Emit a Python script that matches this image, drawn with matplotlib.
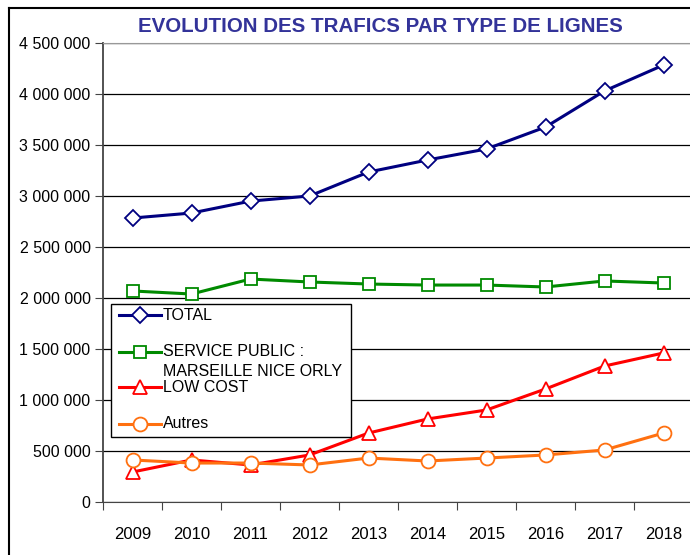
import matplotlib
matplotlib.use("Agg")
import matplotlib.pyplot as plt
from matplotlib.lines import Line2D
from matplotlib.patches import Rectangle
from matplotlib.ticker import FuncFormatter

plt.rcParams['font.family'] = ['Liberation Sans', 'DejaVu Sans']

# data
years = ['2009', '2010', '2011', '2012', '2013', '2014', '2015', '2016', '2017', '2018']
total = [2784000, 2833000, 2950000, 3000000, 3235000, 3353000, 3461000, 3676000, 4030000, 4284000]
service_public = [2069000, 2039000, 2186000, 2157000, 2137000, 2127000, 2127000, 2108000, 2167000, 2147000]
low_cost = [294000, 412000, 363000, 461000, 676000, 814000, 902000, 1108000, 1333000, 1461000]
autres = [412000, 382000, 382000, 363000, 431000, 402000, 431000, 461000, 510000, 676000]

series = [
    ('TOTAL', total, '#000080', 'D', 8),
    ('SERVICE PUBLIC :', service_public, '#008a00', 's', 8),
    ('LOW COST', low_cost, '#ff0000', '^', 10),
    ('Autres', autres, '#ff7010', 'o', 10),
]

fig = plt.figure(figsize=(6.9, 5.55), dpi=100)
ax = fig.add_axes([103 / 690, 1 - 502 / 555, 590 / 690, 459 / 555])

x = [i + 0.5 for i in range(len(years))]
for name, vals, col, mk, ms in series:
    ax.plot(x, vals, color=col, lw=2.2, marker=mk, ms=ms,
            mfc='white', mec=col, mew=1.3, zorder=3, clip_on=False)

ax.set_xlim(0, len(years))
ax.set_ylim(0, 4500000)
ax.set_yticks(range(0, 4500001, 500000))
ax.yaxis.set_major_formatter(FuncFormatter(lambda v, p: f"{int(v):,}".replace(',', ' ')))
ax.set_xticks(range(len(years) + 1))
ax.set_xticklabels([])
ax.set_xticks(x, minor=True)
ax.set_xticklabels(years, minor=True)
ax.tick_params(axis='x', which='minor', length=0, pad=18, labelsize=12)
ax.tick_params(axis='x', which='major', length=6, color='#444444')
ax.tick_params(axis='y', length=6, color='#444444', labelsize=11.5, pad=3)
ax.grid(axis='y', color='black', lw=0.9)
ax.set_axisbelow(True)
ax.spines['right'].set_visible(False)
ax.spines['top'].set_color('#999999')
ax.spines['left'].set_color('#444444')
ax.spines['bottom'].set_color('#444444')
ax.spines['left'].set_linewidth(1.3)

# legend box drawn by hand to mimic the original layout
ax_leg = fig.add_axes([0, 0, 1, 1], facecolor='none')
ax_leg.set_xlim(0, 690)
ax_leg.set_ylim(555, 0)
ax_leg.axis('off')
ax_leg.add_patch(Rectangle((111, 304), 240, 133, facecolor='white', edgecolor='black', lw=1.0))
leg_y = [315, 352, 387, 424]
for (name, vals, col, mk, ms), yy in zip(series, leg_y):
    ax_leg.add_line(Line2D([119, 161], [yy, yy], color=col, lw=2.2))
    ax_leg.add_line(Line2D([140], [yy], marker=mk, ms=ms, mfc='white', mec=col, mew=1.3, color=col))
    ax_leg.text(163, yy, name, va='center', ha='left', fontsize=11.5)
ax_leg.text(163, 371, 'MARSEILLE NICE ORLY', va='center', ha='left', fontsize=11.5)

# outer frame
ax_leg.add_line(Line2D([9, 9], [8, 560], color='black', lw=1.5))
ax_leg.add_line(Line2D([9, 700], [8, 8], color='black', lw=1.5))

fig.text(380 / 690, 1 - 27 / 555, 'EVOLUTION DES TRAFICS PAR TYPE DE LIGNES',
         ha='center', va='center', fontsize=14.8, fontweight='bold', color='#333399')

fig.savefig('out.png', dpi=100)
